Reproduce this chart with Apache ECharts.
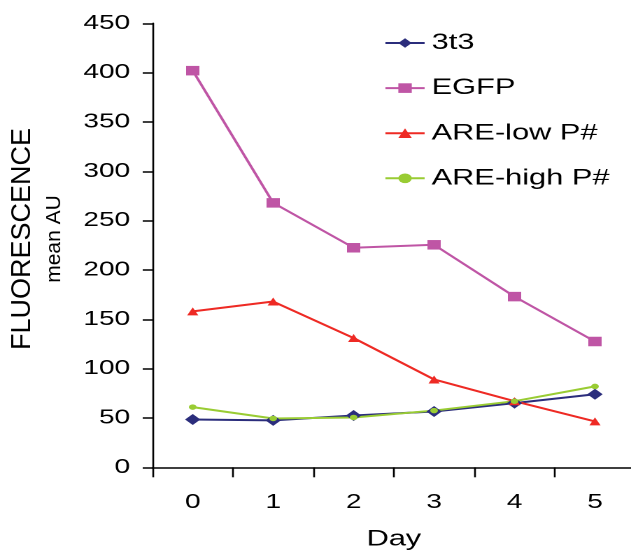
<!DOCTYPE html>
<html><head><meta charset="utf-8">
<script src="https://cdn.jsdelivr.net/npm/echarts@6/dist/echarts.min.js"></script>
<style>
html,body{margin:0;padding:0;background:#fff;overflow:hidden;}
#wrap{width:631px;height:550px;overflow:hidden;position:relative;}
#chart{width:451px;height:550px;transform:scaleX(1.3991);transform-origin:0 0;}
</style></head><body>
<div id="wrap"><div id="chart"></div></div>
<script>
// Data
const days = ['0', '1', '2', '3', '4', '5'];
const series3t3 = [48.5, 47.5, 52.5, 56.5, 65, 74];
const seriesEGFP = [402, 268, 222.5, 225.5, 173, 127.5];
const seriesARELow = [158, 168, 131, 89, 67, 46.5];
const seriesAREHigh = [61, 49.5, 50.5, 57.5, 67, 82];
const seriesNames = ['3t3', 'EGFP', 'ARE-low P#', 'ARE-high P#'];
const yMin = 0, yMax = 450, yStep = 50;

const S = 631 / 451; // horizontal stretch of the whole figure
const FONT = '"Liberation Sans", Arial, sans-serif';
const chart = echarts.init(document.getElementById('chart'), null, {width: 451, height: 550, devicePixelRatio: 2});

function mk(name, data, color, symbol, size) {
  return {
    name: name, type: 'line', data: data,
    symbol: symbol, symbolSize: size, showAllSymbol: true,
    lineStyle: {color: color, width: 2},
    itemStyle: {color: color, borderWidth: 0},
    emphasis: {disabled: true}
  };
}

chart.setOption({
  animation: false,
  backgroundColor: '#fff',
  grid: {left: 109, top: 23.3, width: 345, height: 444, containLabel: false, outerBoundsMode: 'none'},
  legend: {
    orient: 'vertical', left: 274.5, top: 32, padding: 0,
    itemWidth: 28, itemHeight: 12, itemGap: 23.1,
    data: seriesNames,
    textStyle: {fontSize: 22, fontFamily: FONT, color: '#000', lineHeight: 22}
  },
  xAxis: {
    type: 'category', data: days, boundaryGap: true,
    name: 'Day', nameLocation: 'middle', nameGap: 61,
    nameTextStyle: {fontSize: 22, fontFamily: FONT, color: '#000'},
    axisLine: {lineStyle: {color: '#000', width: 1.5}},
    axisTick: {show: true, length: 10, lineStyle: {color: '#000', width: 1.3}},
    axisLabel: {fontSize: 20, fontFamily: FONT, color: '#000', margin: 25},
    splitLine: {show: false}
  },
  yAxis: {
    type: 'value', min: yMin, max: yMax, interval: yStep,
    axisLine: {show: true, lineStyle: {color: '#000', width: 1.3}},
    axisTick: {show: true, length: 7, lineStyle: {color: '#000', width: 1.5}},
    axisLabel: {fontSize: 20, fontFamily: FONT, color: '#000', margin: 16},
    splitLine: {show: false}
  },
  graphic: [
    {type: 'text', x: 16.1, y: 239, rotation: Math.PI / 2, scaleY: 1 / S,
     style: {text: 'FLUORESCENCE', fontSize: 27, fontFamily: FONT, fill: '#000', align: 'center', verticalAlign: 'middle'}},
    {type: 'text', x: 39, y: 239, rotation: Math.PI / 2, scaleY: 1 / S,
     style: {text: 'mean AU', fontSize: 21, fontFamily: FONT, fill: '#000', align: 'center', verticalAlign: 'middle'}}
  ],
  series: [
    mk(seriesNames[0], series3t3, '#2B2D7C', 'diamond', 11),
    mk(seriesNames[1], seriesEGFP, '#BF55A5', 'rect', 9.5),
    mk(seriesNames[2], seriesARELow, '#EE2A24', 'triangle', 8),
    mk(seriesNames[3], seriesAREHigh, '#99CC33', 'circle', 5.5)
  ]
});
</script>
</body></html>
